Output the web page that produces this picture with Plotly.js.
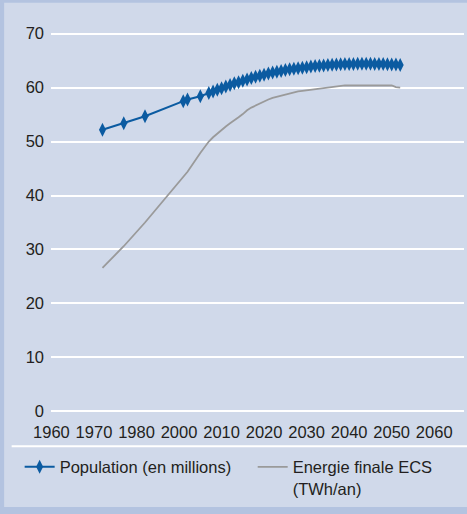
<!DOCTYPE html>
<html>
<head>
<meta charset="utf-8">
<script src="https://cdn.plot.ly/plotly-3.0.1.min.js"></script>
<style>
html,body{margin:0;padding:0;background:#B3C3E0;}
#chart{width:467px;height:514px;}
</style>
</head>
<body>
<div id="chart"></div>
<script>
// ---- Data ----
var popYears = [1980, 1985, 1990, 1999, 2000, 2003,
  2005, 2006, 2007, 2008, 2009, 2010, 2011, 2012, 2013, 2014, 2015, 2016, 2017, 2018, 2019,
  2020, 2021, 2022, 2023, 2024, 2025, 2026, 2027, 2028, 2029, 2030, 2031, 2032, 2033, 2034,
  2035, 2036, 2037, 2038, 2039, 2040, 2041, 2042, 2043, 2044, 2045, 2046, 2047, 2048, 2049, 2050];
var population = [52.2, 53.4, 54.7, 57.5, 57.8, 58.4,
  59.0, 59.3, 59.6, 59.9, 60.2, 60.5, 60.8, 61.0, 61.3, 61.5, 61.8, 62.0, 62.2, 62.4, 62.6,
  62.8, 62.95, 63.1, 63.25, 63.4, 63.5, 63.6, 63.7, 63.8, 63.9, 64.0, 64.05, 64.1, 64.2, 64.25,
  64.3, 64.35, 64.4, 64.4, 64.4, 64.45, 64.45, 64.45, 64.45, 64.4, 64.4, 64.4, 64.35, 64.3, 64.3, 64.2];
var energie = [26.6, 30.6, 35.0, 43.4, 44.4, 47.9,
  50.0, 50.8, 51.5, 52.2, 52.8, 53.4, 53.9, 54.5, 55.1, 55.8, 56.3, 56.7, 57.1, 57.5, 57.8,
  58.1, 58.3, 58.6, 58.8, 59.0, 59.1, 59.3, 59.4, 59.5, 59.6, 59.7, 59.8, 59.9, 60.0, 60.1,
  60.2, 60.4, 60.4, 60.4, 60.4, 60.4, 60.4, 60.4, 60.4, 60.4, 60.4, 60.4, 60.4, 60.4, 60.1, 60.0];
var xTickPos = [1968, 1978, 1988, 1998, 2008, 2018, 2028, 2038, 2048, 2058];
var xTickLabels = ['1960', '1970', '1980', '2000', '2010', '2020', '2030', '2040', '2050', '2060'];
var yTicks = [0, 10, 20, 30, 40, 50, 60, 70];
var seriesNames = ['Population (en millions)', 'Energie finale ECS<br>(TWh/an)'];

// ---- Layout geometry (pixels) ----
var W = 467, H = 514;
var L = 51.3, R = 3.3, T = 31.3, B = 99.6;
var plotW = W - L - R, plotH = H - T - B;
function px(x) { return (x - L) / plotW; }
function py(y) { return (H - B - y) / plotH; }

var textColor = '#231F20';
var font = {family: 'Liberation Sans, Arial, Helvetica, sans-serif', size: 16.5, color: textColor};

var traces = [
  {
    x: popYears, y: population, name: seriesNames[0], type: 'scatter', mode: 'lines+markers',
    line: {color: '#0B5BA1', width: 2},
    marker: {symbol: 'diamond-tall', size: 10, color: '#0B5BA1'},
    legend: 'legend'
  },
  {
    x: popYears, y: energie, name: seriesNames[1], type: 'scatter', mode: 'lines',
    line: {color: '#9A9A9A', width: 1.8},
    legend: 'legend2'
  }
];

var legendBase = {
  orientation: 'h', xanchor: 'left', yanchor: 'top',
  font: font, bgcolor: 'rgba(0,0,0,0)', valign: 'top', borderwidth: 0
};

var layout = {
  width: W, height: H,
  margin: {l: L, r: R, t: T, b: B, pad: 0},
  paper_bgcolor: '#B3C3E0',
  plot_bgcolor: 'rgba(0,0,0,0)',
  font: font,
  showlegend: true,
  xaxis: {
    range: [1967.9, 2065.0], showgrid: false, zeroline: false, showline: false,
    tickmode: 'array', tickvals: xTickPos, ticktext: xTickLabels, ticks: '',
    tickfont: font, ticklabelstandoff: 6, fixedrange: true
  },
  yaxis: {
    range: [-0.5, 70.5], showgrid: true, gridcolor: '#FFFFFF', gridwidth: 2,
    zeroline: false, showline: false, tickmode: 'array', tickvals: yTicks, ticks: '',
    tickfont: font, ticklabelstandoff: 6, fixedrange: true
  },
  legend: Object.assign({}, legendBase, {x: px(20), y: py(450)}),
  legend2: Object.assign({}, legendBase, {x: px(252.7), y: py(450)}),
  shapes: [
    {type: 'rect', xref: 'paper', yref: 'paper', layer: 'below',
     x0: px(4.5), x1: px(470), y0: py(507.5), y1: py(3),
     fillcolor: '#D0D9EA', line: {width: 0}},
    {type: 'line', xref: 'paper', yref: 'paper', layer: 'below',
     x0: px(12), x1: px(470), y0: py(446.7), y1: py(446.7),
     line: {color: '#FFFFFF', width: 2}}
  ]
};

Plotly.newPlot('chart', traces, layout, {displayModeBar: false, staticPlot: true});
</script>
</body>
</html>
